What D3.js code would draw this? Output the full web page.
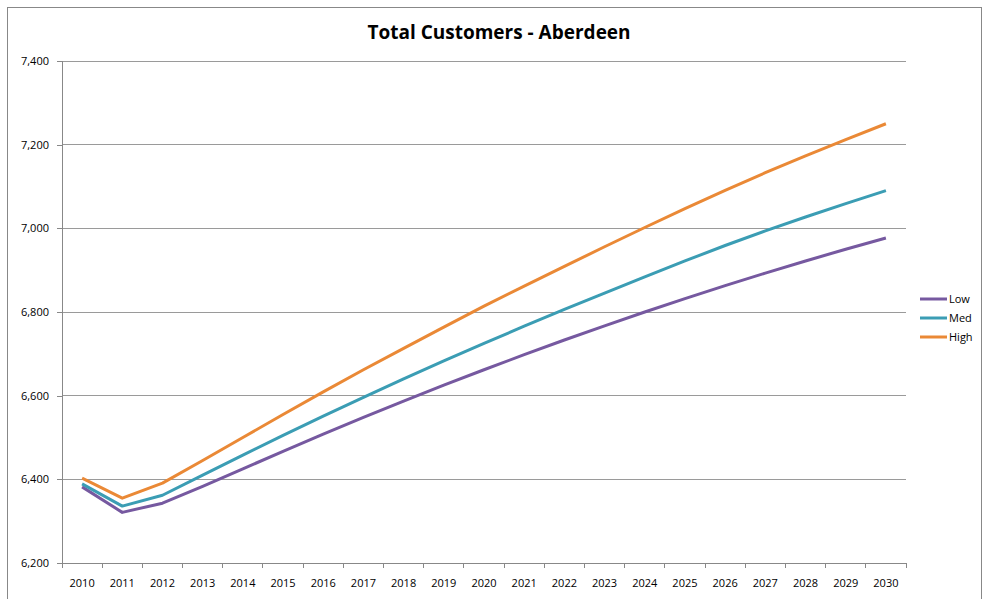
<!DOCTYPE html>
<meta charset="utf-8">
<script src="https://cdn.jsdelivr.net/npm/d3@7"></script>
<style>
body {
  margin: 0;
  background-color: #fff;
}
text {
  font-family: "Open Sans", "DejaVu Sans", sans-serif;
  fill: #000;
}
.grid line {
  stroke: #9a9a9a;
  stroke-width: 1px;
  shape-rendering: crispEdges;
}
.axis path,
.axis line {
  fill: none;
  stroke: #888;
  stroke-width: 1px;
  shape-rendering: crispEdges;
}
.line {
  fill: none;
  stroke-width: 3px;
  stroke-linejoin: round;
}
</style>
<body>
  <div id="chart"></div>
</body>
<script>
var years = ["2010", "2011", "2012", "2013", "2014", "2015", "2016", "2017", "2018", "2019", "2020",
             "2021", "2022", "2023", "2024", "2025", "2026", "2027", "2028", "2029", "2030"];
var low  = [6382, 6321, 6343, 6383, 6425, 6467, 6508, 6548, 6587, 6625, 6662,
            6698, 6733, 6767, 6800, 6832, 6863, 6893, 6922, 6950, 6977];
var med  = [6389, 6336, 6362, 6410, 6458, 6505, 6551, 6596, 6640, 6683, 6725,
            6766, 6806, 6845, 6884, 6922, 6959, 6994, 7027, 7059, 7090];
var high = [6403, 6355, 6391, 6445, 6500, 6555, 6609, 6662, 6713, 6764, 6814,
            6862, 6909, 6956, 7002, 7047, 7091, 7133, 7173, 7212, 7250];
var yTicks = [6200, 6400, 6600, 6800, 7000, 7200, 7400];
var seriesNames = ["Low", "Med", "High"];
var colors = ["#7659a0", "#3b9db4", "#ea8936"];

var series = [low, med, high].map(function(vals, i) {
  return {name: seriesNames[i], color: colors[i],
          values: vals.map(function(v, j) { return {year: years[j], value: v}; })};
});

var W = 982, H = 599;
var margin = {top: 61, right: 76, bottom: 36, left: 62},
    width = 906 - margin.left,
    height = 563 - margin.top;

var svg = d3.select("#chart").append("svg")
    .attr("width", W)
    .attr("height", H);

// outer chart frame
svg.append("rect")
    .attr("x", 7.5).attr("y", 7.5)
    .attr("width", W - 8).attr("height", H)
    .attr("fill", "none")
    .attr("stroke", "#888");

svg.append("text")
    .attr("x", 499)
    .attr("y", 39)
    .attr("text-anchor", "middle")
    .style("font-size", "19px")
    .style("font-weight", "bold")
    .text("Total Customers - Aberdeen");

var x = d3.scaleBand().domain(years).range([0, width]);
var y = d3.scaleLinear().domain([6200, 7400]).range([height, 0]);

var g = svg.append("g")
    .attr("transform", "translate(" + margin.left + "," + margin.top + ")");

g.append("g")
    .attr("class", "grid")
    .selectAll("line")
    .data(yTicks.slice(1))
    .enter().append("line")
    .attr("x1", 0).attr("x2", width)
    .attr("y1", function(d) { return y(d); })
    .attr("y2", function(d) { return y(d); });

var yAxis = g.append("g")
    .attr("class", "axis")
    .call(d3.axisLeft(y).tickValues(yTicks).tickSize(5).tickPadding(8).tickFormat(d3.format(",")));
yAxis.selectAll("text").style("font-size", "11px");

var xAxis = g.append("g")
    .attr("class", "axis")
    .attr("transform", "translate(0," + height + ")")
    .call(d3.axisBottom(x).tickSize(0).tickPadding(16));
xAxis.selectAll("text").style("font-size", "11px");

// tick marks between categories
xAxis.selectAll(".sep")
    .data(d3.range(years.length + 1))
    .enter().append("line")
    .attr("class", "sep")
    .attr("x1", function(i) { return i * x.step(); })
    .attr("x2", function(i) { return i * x.step(); })
    .attr("y1", 0).attr("y2", 5)
    .attr("stroke", "#888");

var line = d3.line()
    .x(function(d) { return x(d.year) + x.bandwidth() / 2; })
    .y(function(d) { return y(d.value); });

g.selectAll(".line")
    .data(series)
    .enter().append("path")
    .attr("class", "line")
    .attr("d", function(d) { return line(d.values); })
    .style("stroke", function(d) { return d.color; });

var legend = svg.append("g")
    .attr("transform", "translate(920,299)");
var item = legend.selectAll("g")
    .data(series)
    .enter().append("g")
    .attr("transform", function(d, i) { return "translate(0," + (i * 19) + ")"; });
item.append("line")
    .attr("x1", 0).attr("x2", 27)
    .attr("stroke", function(d) { return d.color; })
    .attr("stroke-width", 3);
item.append("text")
    .attr("x", 29)
    .attr("dy", "0.35em")
    .style("font-size", "11px")
    .text(function(d) { return d.name; });
</script>
